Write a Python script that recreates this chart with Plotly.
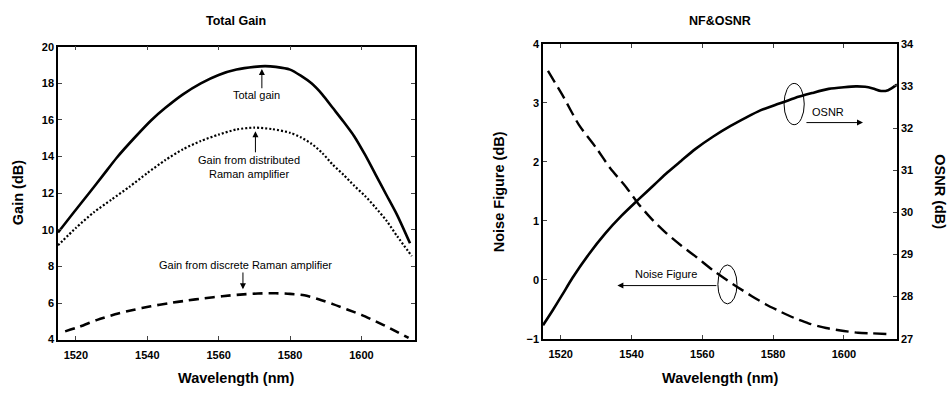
import plotly.graph_objects as go

# ---------------- data ----------------
wl_total = [1515, 1519, 1523.9, 1527.7, 1531.5, 1536.3, 1541.2, 1545, 1550, 1555, 1560, 1565, 1570,
            1573, 1576, 1580, 1583, 1586, 1589, 1592, 1595, 1598, 1601, 1604, 1607, 1610, 1613.6]
gain_total = [9.85, 10.85, 12.05, 13.0, 13.95, 15.0, 16.0, 16.65, 17.4, 18.0, 18.46, 18.75, 18.9,
              18.94, 18.9, 18.75, 18.42, 18.0, 17.4, 16.65, 15.9, 15.1, 14.1, 13.0, 11.9, 10.8, 9.26]

wl_dist = [1515, 1520, 1525, 1530, 1535, 1540, 1545, 1550, 1555, 1560, 1565, 1570, 1575, 1580,
           1583, 1586, 1589, 1592, 1595, 1598, 1601, 1604, 1607, 1610, 1614.1]
gain_dist = [9.15, 10.1, 10.95, 11.65, 12.35, 13.1, 13.8, 14.4, 14.85, 15.2, 15.48, 15.58, 15.5, 15.3,
             15.05, 14.7, 14.2, 13.55, 13.0, 12.4, 11.85, 11.2, 10.5, 9.65, 8.56]

wl_disc = [1517, 1521, 1526, 1531, 1536, 1541, 1546, 1551, 1556, 1561, 1566, 1571, 1576, 1580,
           1584, 1588, 1592, 1596, 1600, 1604, 1608, 1613.2]
gain_disc = [4.45, 4.7, 5.08, 5.38, 5.62, 5.82, 5.99, 6.13, 6.26, 6.37, 6.46, 6.52, 6.53, 6.5,
             6.42, 6.2, 5.94, 5.65, 5.35, 5.0, 4.62, 4.09]

wl_nf = [1516.4, 1520.5, 1525.1, 1530.2, 1534, 1538.6, 1541.9, 1546, 1549.8, 1554, 1558.4, 1563,
         1568.8, 1574, 1578, 1582, 1586, 1590, 1595, 1600, 1604, 1608, 1612]
nf = [3.54, 3.13, 2.63, 2.22, 1.89, 1.56, 1.29, 1.01, 0.79, 0.58, 0.38, 0.16,
      -0.08, -0.28, -0.42, -0.54, -0.65, -0.74, -0.82, -0.87, -0.9, -0.91, -0.92]

wl_osnr = [1515, 1517.7, 1520.5, 1523.3, 1527.9, 1532.6, 1537.2, 1541.9, 1546.5, 1550.2, 1554, 1558,
           1563.1, 1568, 1572.6, 1576.4, 1580, 1586, 1591, 1595.7, 1600, 1603.4, 1606, 1608.2,
           1610.5, 1612.5, 1615]
osnr = [27.32, 27.67, 28.05, 28.44, 29.0, 29.5, 29.92, 30.3, 30.66, 30.95, 31.22, 31.5,
        31.8, 32.05, 32.26, 32.42, 32.53, 32.71, 32.83, 32.93, 32.97, 32.99, 32.98, 32.94,
        32.88, 32.9, 33.03]

x_ticks = [1520, 1540, 1560, 1580, 1600]
gain_ticks = [4, 6, 8, 10, 12, 14, 16, 18, 20]
nf_ticks = [-1, 0, 1, 2, 3, 4]
osnr_ticks = [27, 28, 29, 30, 31, 32, 33, 34]

# ---------------- figure ----------------
FONT = "Liberation Sans, Arial, sans-serif"
fig = go.Figure()

def line(x, y, xa, ya, width, dash="solid"):
    fig.add_trace(go.Scatter(x=x, y=y, mode="lines",
                             line=dict(color="black", width=width, dash=dash, shape="spline", smoothing=0.7),
                             xaxis=xa, yaxis=ya, showlegend=False, hoverinfo="skip"))

line(wl_total, gain_total, "x", "y", 2.6)
line(wl_dist, gain_dist, "x", "y", 2.2, "2px,2px")
line(wl_disc, gain_disc, "x", "y", 2.6, "10px,6px")
line(wl_nf, nf, "x2", "y2", 2.4, "13px,6px")
line(wl_osnr, osnr, "x2", "y3", 2.6)

tickfont = dict(family=FONT, size=11, color="black", weight="bold")
common_x = dict(range=[1515, 1615], tickvals=x_ticks, ticks="inside", ticklen=4, tickwidth=1,
                showline=True, linecolor="black", linewidth=1.5, showgrid=False, zeroline=False,
                tickfont=tickfont, mirror="ticks", ticklabelstandoff=4)
common_y = dict(ticks="inside", ticklen=4, tickwidth=1, showline=True, linecolor="black",
                linewidth=1.5, showgrid=False, zeroline=False, tickfont=tickfont)

fig.update_layout(
    width=951, height=398,
    margin=dict(l=0, r=0, t=0, b=0),
    paper_bgcolor="white", plot_bgcolor="white",
    xaxis=dict(domain=[0.0610, 0.4364], anchor="y", **common_x),
    yaxis=dict(domain=[0.1357, 0.8945], anchor="x", range=[4, 20], tickvals=gain_ticks,
               mirror="ticks", **common_y),
    xaxis2=dict(domain=[0.5710, 0.9432], anchor="y2", **common_x),
    yaxis2=dict(domain=[0.1382, 0.9020], anchor="x2", range=[-1, 4], tickvals=nf_ticks,
                mirror=True, **common_y),
    yaxis3=dict(overlaying="y2", side="right", anchor="x2", range=[27, 34], tickvals=osnr_ticks,
                **common_y),
)

ann = []
def text(x, y, s, size, xref="paper", yref="paper", angle=0, bold=True):
    ann.append(dict(x=x, y=y, xref=xref, yref=yref, text=s, showarrow=False, textangle=angle,
                    font=dict(family=FONT, size=size, color="black", weight="bold" if bold else "normal"),
                    xanchor="center", yanchor="middle"))

# titles
text(236 / 951, 1 - 15 / 398, "Total Gain", 12.5)
text(720 / 951, 1 - 15 / 398, "NF&OSNR", 12.5)
text(236 / 951, 1 - 384 / 398, "Wavelength (nm)", 14.5)
text(720 / 951, 1 - 384 / 398, "Wavelength (nm)", 14.5)
text(18 / 951, 1 - 193 / 398, "Gain (dB)", 14.5, angle=-90)
text(499 / 951, 1 - 191 / 398, "Noise Figure (dB)", 14.5, angle=-90)
text(940 / 951, 1 - 191 / 398, "OSNR (dB)", 14.5, angle=90)

def arrow_note(x, y, ax, ay, xref, yref):
    ann.append(dict(x=x, y=y, ax=ax, ay=ay, xref=xref, yref=yref, axref=xref, ayref=yref,
                    text="", showarrow=True, arrowhead=2, arrowsize=1.2, arrowwidth=1,
                    arrowcolor="black"))

NOTE = 11
text(1570.7, 17.35, "Total gain", NOTE, "x", "y", bold=False)
arrow_note(1572.1, 18.78, 1572.1, 17.65, "x", "y")
text(1568.5, 13.45, "Gain from distributed<br>Raman amplifier", NOTE, "x", "y", bold=False)
arrow_note(1570.3, 15.38, 1570.3, 14.15, "x", "y")
text(1567.4, 8.1, "Gain from discrete Raman amplifier", NOTE, "x", "y", bold=False)
arrow_note(1566.8, 6.75, 1566.8, 7.75, "x", "y")

text(1549.7, 0.10, "Noise Figure", NOTE, "x2", "y2", bold=False)
arrow_note(1536.0, -0.10, 1564.4, -0.10, "x2", "y2")
text(1595.5, 32.39, "OSNR", NOTE, "x2", "y3", bold=False)
arrow_note(1605.4, 32.13, 1589.0, 32.13, "x2", "y3")

fig.update_layout(annotations=ann)

fig.update_layout(shapes=[
    dict(type="circle", xref="x2", yref="y2", x0=1564.4, x1=1569.8, y0=-0.41, y1=0.25,
         line=dict(color="black", width=1)),
    dict(type="circle", xref="x2", yref="y3", x0=1583.1, x1=1588.8, y0=32.08, y1=33.06,
         line=dict(color="black", width=1)),
])

fig.write_html("out.html")
